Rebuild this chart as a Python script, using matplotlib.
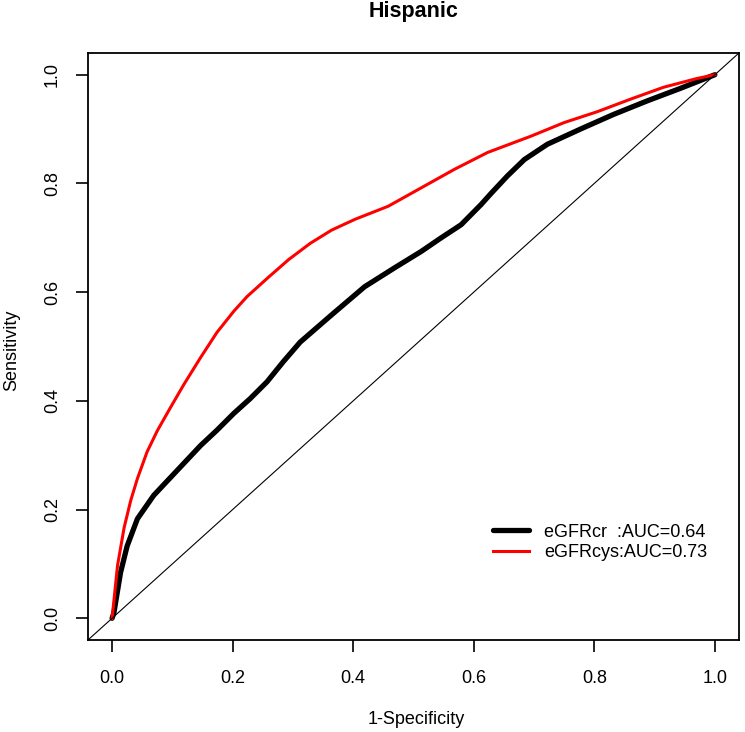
import matplotlib
matplotlib.use("Agg")
import matplotlib.pyplot as plt

plt.rcParams['font.family'] = ['Liberation Sans', 'DejaVu Sans']

# ROC curve points
fpr_cr = [0, 0.003, 0.014, 0.025, 0.042, 0.069, 0.091, 0.119, 0.147, 0.174, 0.202,
          0.229, 0.257, 0.284, 0.312, 0.339, 0.364, 0.419, 0.469, 0.513, 0.546,
          0.579, 0.612, 0.629, 0.656, 0.684, 0.722, 0.777, 0.832, 0.888, 0.943, 1.0]
tpr_cr = [0, 0.01, 0.084, 0.133, 0.183, 0.226, 0.252, 0.285, 0.318, 0.346, 0.377,
          0.404, 0.435, 0.472, 0.508, 0.534, 0.558, 0.610, 0.645, 0.675, 0.700,
          0.724, 0.761, 0.782, 0.814, 0.844, 0.872, 0.900, 0.927, 0.952, 0.975, 1.0]

fpr_cys = [0, 0.009, 0.020, 0.031, 0.042, 0.058, 0.075, 0.097, 0.119, 0.147, 0.174,
           0.202, 0.224, 0.26, 0.293, 0.329, 0.364, 0.403, 0.458, 0.513, 0.568,
           0.623, 0.695, 0.750, 0.805, 0.860, 0.915, 0.970, 1.0]
tpr_cys = [0, 0.097, 0.167, 0.217, 0.257, 0.306, 0.345, 0.388, 0.430, 0.480, 0.526,
           0.565, 0.592, 0.628, 0.660, 0.690, 0.714, 0.734, 0.758, 0.792, 0.826,
           0.857, 0.887, 0.912, 0.932, 0.955, 0.977, 0.993, 1.0]

labels = ["eGFRcr  :AUC=0.64", "eGFRcys:AUC=0.73"]
ticks = [0.0, 0.2, 0.4, 0.6, 0.8, 1.0]

fig = plt.figure(figsize=(7.45, 7.32), dpi=100)
ax = fig.add_axes([0.1181, 0.1257, 0.8738, 0.8019])

ax.plot(fpr_cr, tpr_cr, color='black', lw=3.8, label=labels[0],
        solid_joinstyle='round', solid_capstyle='round')
ax.plot(fpr_cys, tpr_cys, color='#ff0000', lw=2.2, label=labels[1], solid_joinstyle='round')
ax.axline((0, 0), (1, 1), color='black', lw=0.8)

ax.set_xlim(-0.04, 1.04)
ax.set_ylim(-0.04, 1.04)
ax.set_xticks(ticks)
ax.set_yticks(ticks)
ax.set_xticklabels([f"{t:.1f}" for t in ticks])
ax.set_yticklabels([f"{t:.1f}" for t in ticks], rotation=90, va='center')
ax.tick_params(length=8.5, width=1.2, labelsize=13, color='black')
ax.tick_params(axis='x', pad=13)
ax.tick_params(axis='y', pad=11)
for s in ax.spines.values():
    s.set_linewidth(1.3)

leg = ax.legend(loc='center left', bbox_to_anchor=(0.622, 0.166), frameon=False,
                fontsize=13, handlelength=2.0, handletextpad=0.85,
                labelspacing=0.2, borderpad=0, borderaxespad=0)

fig.text(414 / 745, 1 - 11 / 732, "Hispanic", ha='center', va='center',
         fontsize=15.5, fontweight='bold')
fig.text(416 / 745, 1 - 720 / 732, "1-Specificity", ha='center', va='center', fontsize=13)
fig.text(12 / 745, 1 - 350 / 732, "Sensitivity", ha='center', va='center',
         rotation=90, fontsize=13)

fig.savefig("out.png", dpi=100)
